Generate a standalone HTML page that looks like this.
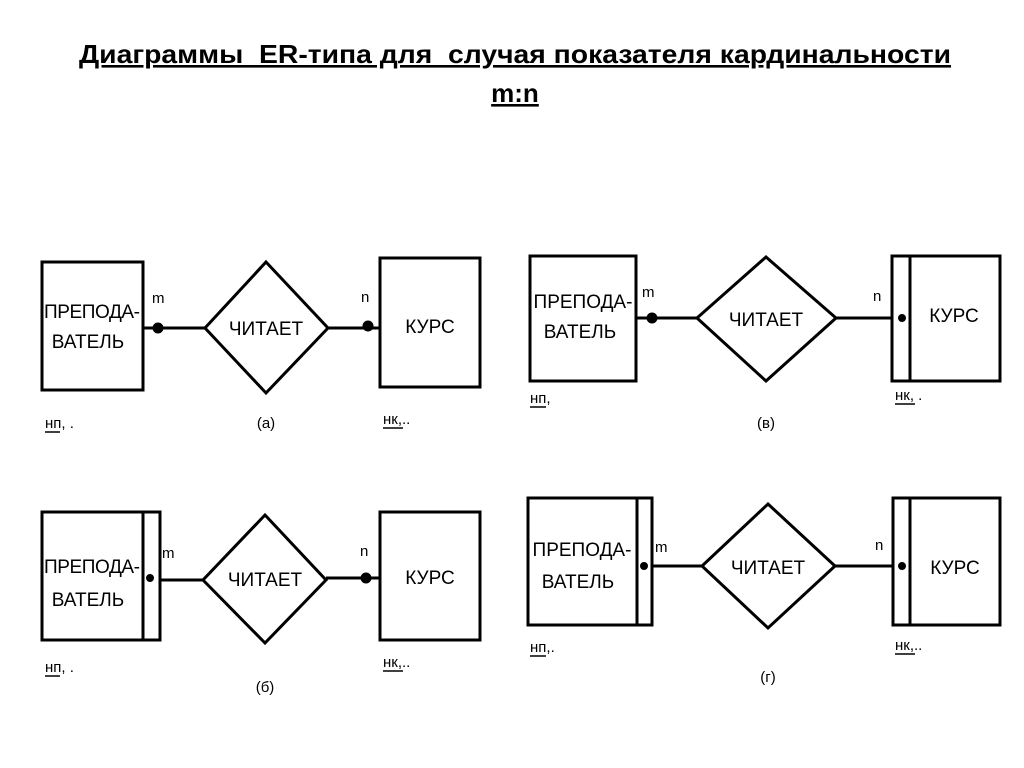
<!DOCTYPE html>
<html><head><meta charset="utf-8"><style>
body{margin:0;background:#fff;width:1024px;height:768px;overflow:hidden}
svg{display:block}
text{font-family:"Liberation Sans","DejaVu Sans",sans-serif}
.t{font-size:26px;font-weight:bold;text-decoration:underline;white-space:pre}
.b{font-size:19px}
.s{font-size:15px}
</style></head><body>
<svg width="1024" height="768" viewBox="0 0 1024 768" fill="none" stroke="#000" stroke-width="3">
<g stroke="none" fill="#000">
<text class="t" x="515" y="63" text-anchor="middle" textLength="872" lengthAdjust="spacingAndGlyphs" xml:space="preserve">Диаграммы  ER-типа для  случая показателя кардинальности</text>
<text class="t" x="515" y="102" text-anchor="middle">m:n</text>
</g>
<!-- (a) -->
<rect x="42" y="262" width="101" height="128"/>
<line x1="143" y1="328" x2="205" y2="328"/>
<polygon points="266,262 328,328 266,393 205,328"/>
<line x1="328" y1="328" x2="380" y2="328"/>
<rect x="380" y="258" width="100" height="129"/>
<circle cx="158" cy="328" r="4" fill="#000"/>
<circle cx="368" cy="326" r="4" fill="#000"/>
<g stroke="none" fill="#000">
<text class="b" x="92" y="318" text-anchor="middle" textLength="96">ПРЕПОДА-</text>
<text class="b" x="88" y="348" text-anchor="middle">ВАТЕЛЬ</text>
<text class="b" x="266" y="335" text-anchor="middle">ЧИТАЕТ</text>
<text class="b" x="430" y="333" text-anchor="middle">КУРС</text>
<text class="s" x="152" y="303">m</text><text class="s" x="361" y="302">n</text>
<text class="s" x="45" y="428">нп, .</text><text class="s" x="266" y="428" text-anchor="middle">(а)</text>
<text class="s" x="383" y="424">нк,..</text>
</g>
<line x1="45" y1="432" x2="60" y2="432" stroke-width="1.5"/>
<line x1="383" y1="428" x2="403" y2="428" stroke-width="1.5"/>
<!-- (в) -->
<rect x="530" y="256" width="106" height="125"/>
<line x1="636" y1="318" x2="697" y2="318"/>
<polygon points="766,257 836,318 766,381 697,318"/>
<line x1="836" y1="318" x2="892" y2="318"/>
<rect x="892" y="256" width="108" height="125"/>
<line x1="910" y1="256" x2="910" y2="381"/>
<circle cx="652" cy="318" r="4" fill="#000"/>
<circle cx="902" cy="318" r="2.5" fill="#000"/>
<g stroke="none" fill="#000">
<text class="b" x="583" y="308" text-anchor="middle">ПРЕПОДА-</text>
<text class="b" x="580" y="338" text-anchor="middle">ВАТЕЛЬ</text>
<text class="b" x="766" y="326" text-anchor="middle">ЧИТАЕТ</text>
<text class="b" x="954" y="322" text-anchor="middle">КУРС</text>
<text class="s" x="642" y="297">m</text><text class="s" x="873" y="301">n</text>
<text class="s" x="530" y="403">нп,</text><text class="s" x="766" y="428" text-anchor="middle">(в)</text>
<text class="s" x="895" y="400">нк, .</text>
</g>
<line x1="530" y1="407" x2="546" y2="407" stroke-width="1.5"/>
<line x1="895" y1="404" x2="915" y2="404" stroke-width="1.5"/>
<!-- (б) -->
<rect x="42" y="512" width="118" height="128"/>
<line x1="143" y1="512" x2="143" y2="640"/>
<line x1="160" y1="580" x2="203" y2="580"/>
<polygon points="265,515 326,580 265,643 203,580"/>
<line x1="326" y1="578" x2="380" y2="578"/>
<rect x="380" y="512" width="100" height="128"/>
<circle cx="150" cy="578" r="2.5" fill="#000"/>
<circle cx="366" cy="578" r="4" fill="#000"/>
<g stroke="none" fill="#000">
<text class="b" x="92" y="573" text-anchor="middle" textLength="96">ПРЕПОДА-</text>
<text class="b" x="88" y="606" text-anchor="middle">ВАТЕЛЬ</text>
<text class="b" x="265" y="586" text-anchor="middle">ЧИТАЕТ</text>
<text class="b" x="430" y="584" text-anchor="middle">КУРС</text>
<text class="s" x="162" y="558">m</text><text class="s" x="360" y="556">n</text>
<text class="s" x="45" y="672">нп, .</text><text class="s" x="265" y="692" text-anchor="middle">(б)</text>
<text class="s" x="383" y="667">нк,..</text>
</g>
<line x1="45" y1="676" x2="60" y2="676" stroke-width="1.5"/>
<line x1="383" y1="671" x2="403" y2="671" stroke-width="1.5"/>
<!-- (г) -->
<rect x="528" y="498" width="124" height="127"/>
<line x1="637" y1="498" x2="637" y2="625"/>
<line x1="652" y1="566" x2="702" y2="566"/>
<polygon points="768,504 835,566 768,628 702,566"/>
<line x1="835" y1="566" x2="893" y2="566"/>
<rect x="893" y="498" width="107" height="127"/>
<line x1="910" y1="498" x2="910" y2="625"/>
<circle cx="644" cy="566" r="2.5" fill="#000"/>
<circle cx="902" cy="566" r="2.5" fill="#000"/>
<g stroke="none" fill="#000">
<text class="b" x="582" y="556" text-anchor="middle">ПРЕПОДА-</text>
<text class="b" x="578" y="588" text-anchor="middle">ВАТЕЛЬ</text>
<text class="b" x="768" y="574" text-anchor="middle">ЧИТАЕТ</text>
<text class="b" x="955" y="574" text-anchor="middle">КУРС</text>
<text class="s" x="655" y="552">m</text><text class="s" x="875" y="550">n</text>
<text class="s" x="530" y="652">нп,.</text><text class="s" x="768" y="682" text-anchor="middle">(г)</text>
<text class="s" x="895" y="650">нк,..</text>
</g>
<line x1="530" y1="656" x2="546" y2="656" stroke-width="1.5"/>
<line x1="895" y1="654" x2="915" y2="654" stroke-width="1.5"/>
</svg>
</body></html>
